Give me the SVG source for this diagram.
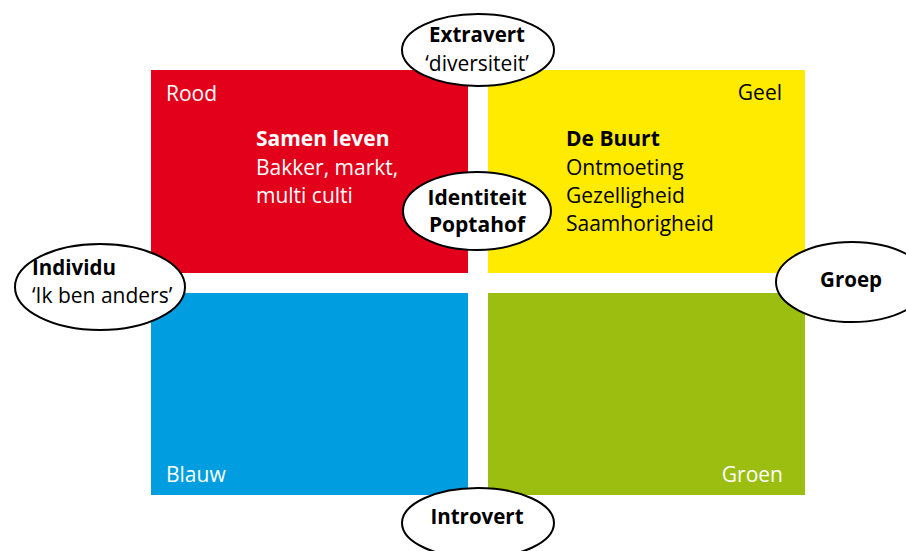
<svg xmlns="http://www.w3.org/2000/svg" width="906" height="551" viewBox="0 0 906 551">
<style>
text{font-family:"Open Sans","Noto Sans","Liberation Sans",sans-serif;font-size:21px}
.b{font-weight:bold}
.w{fill:#ffffff}
.k{fill:#000000}
.c{text-anchor:middle}
.e{fill:#ffffff;stroke:#000000;stroke-width:2}
.el{font-size:20.5px}
</style>
<rect width="906" height="551" fill="#ffffff"/>
<g id="rood">
<rect x="151" y="70" width="317" height="203" fill="#E3001B"/>
<text class="w" x="166" y="101">Rood</text>
<text class="w b" x="256" y="146">Samen leven</text>
<text class="w" x="256" y="175">Bakker, markt,</text>
<text class="w" x="256" y="203">multi culti</text>
</g>
<g id="geel">
<rect x="488" y="70" width="317" height="203" fill="#FFEB00"/>
<text class="k" x="782" y="100" text-anchor="end">Geel</text>
<text class="k b" x="566" y="146">De Buurt</text>
<text class="k" x="566" y="175">Ontmoeting</text>
<text class="k" x="566" y="203">Gezelligheid</text>
<text class="k" x="566" y="231">Saamhorigheid</text>
</g>
<g id="blauw">
<rect x="151" y="293" width="317" height="202" fill="#009EE0"/>
<text class="w" x="166" y="482">Blauw</text>
</g>
<g id="groen">
<rect x="488" y="293" width="317" height="202" fill="#9BBE11"/>
<text class="w" x="783" y="482" text-anchor="end">Groen</text>
</g>
<g id="connectors"></g>
<g id="extravert">
<ellipse class="e" cx="478" cy="50" rx="76" ry="36"/>
<text class="k b c el" x="477" y="42">Extravert</text>
<text class="k c" x="477" y="71">‘diversiteit’</text>
</g>
<g id="identiteit">
<ellipse class="e" cx="477" cy="211" rx="74" ry="39"/>
<text class="k b c" x="477" y="205">Identiteit</text>
<text class="k b c" x="477" y="232">Poptahof</text>
</g>
<g id="individu">
<ellipse class="e" cx="100" cy="287" rx="85" ry="43"/>
<text class="k b el" x="32" y="275">Individu</text>
<text class="k" x="32" y="303">‘Ik ben anders’</text>
</g>
<g id="groep">
<ellipse class="e" cx="852" cy="282" rx="76" ry="40"/>
<text class="k b c el" x="851" y="287">Groep</text>
</g>
<g id="introvert">
<ellipse class="e" cx="478" cy="523" rx="76" ry="35"/>
<text class="k b c el" x="477" y="524">Introvert</text>
</g>
</svg>
